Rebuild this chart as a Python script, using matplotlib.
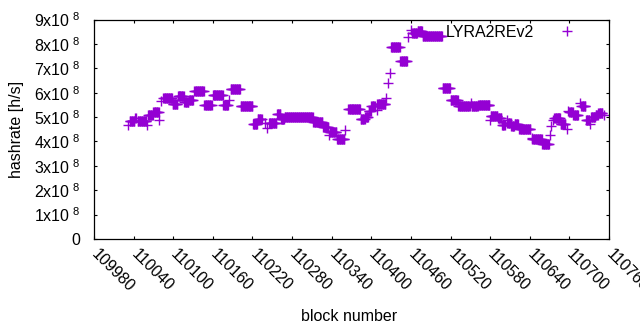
import numpy as np
import matplotlib
matplotlib.use("Agg")
import matplotlib.pyplot as plt
from matplotlib.ticker import FuncFormatter

plt.rcParams['font.family'] = ['Liberation Sans', 'DejaVu Sans']
plt.rcParams['mathtext.default'] = 'regular'

# Runs of blocks with a constant hashrate (start block, end block, hashrate in 1e8 h/s)
run_start = [110032, 110034, 110042, 110046, 110060, 110062, 110070, 110079, 110082, 110085,
             110099, 110107, 110117, 110124, 110132, 110147, 110148, 110160, 110176, 110185,
             110187, 110202, 110221, 110228, 110239, 110242, 110245, 110257, 110263, 110269,
             110312, 110327, 110336, 110337, 110348, 110360, 110365, 110384, 110391, 110396,
             110400, 110408, 110409, 110423, 110425, 110428, 110430, 110444, 110456, 110460,
             110462, 110470, 110478, 110508, 110520, 110532, 110551, 110552, 110562, 110580,
             110581, 110592, 110598, 110605, 110606, 110612, 110617, 110624, 110643, 110644,
             110659, 110670, 110672, 110675, 110677, 110687, 110696, 110698, 110700, 110706,
             110716, 110718, 110725, 110731, 110733, 110740, 110744, 110753]
run_end = [110032, 110041, 110043, 110059, 110060, 110069, 110078, 110079, 110082, 110098,
           110106, 110116, 110123, 110130, 110146, 110147, 110158, 110175, 110183, 110185,
           110201, 110220, 110227, 110234, 110239, 110242, 110256, 110262, 110268, 110311,
           110326, 110335, 110336, 110347, 110359, 110360, 110383, 110390, 110395, 110399,
           110405, 110408, 110421, 110423, 110425, 110428, 110443, 110454, 110456, 110460,
           110469, 110477, 110507, 110519, 110531, 110549, 110551, 110561, 110579, 110580,
           110591, 110597, 110602, 110605, 110611, 110616, 110622, 110641, 110643, 110658,
           110669, 110670, 110672, 110675, 110686, 110694, 110696, 110698, 110705, 110713,
           110716, 110724, 110730, 110731, 110739, 110743, 110750, 110753]
run_hashrate = [4.66, 4.85, 4.96, 4.85, 4.66, 5.09, 5.20, 4.87, 5.67, 5.80,
                5.55, 5.88, 5.62, 5.71, 6.08, 5.48, 5.51, 5.89, 5.51, 5.69,
                6.17, 5.44, 4.72, 4.90, 4.77, 4.57, 4.77, 5.11, 4.90, 5.02,
                4.80, 4.59, 4.25, 4.39, 4.12, 4.46, 5.31, 4.94, 5.00, 5.25,
                5.44, 5.28, 5.52, 5.80, 6.41, 6.82, 7.87, 7.29, 8.30, 8.55,
                8.44, 8.51, 8.32, 6.21, 5.71, 5.44, 5.59, 5.44, 5.51, 4.87,
                5.03, 4.98, 4.66, 4.87, 4.77, 4.62, 4.73, 4.49, 4.14, 4.08,
                3.89, 4.25, 4.62, 4.87, 4.98, 4.73, 4.49, 5.25, 5.21, 5.10,
                5.58, 5.44, 4.87, 4.70, 5.00, 5.10, 5.17, 5.07]

x_ticks = list(range(109980, 110761, 60))
x_tick_labels = [str(t) for t in x_ticks]
y_ticks = [i * 1e8 for i in range(10)]
series_name = "LYRA2REv2"

blocks = np.concatenate([np.arange(s, e + 1) for s, e in zip(run_start, run_end)])
values = np.concatenate([np.full(e - s + 1, v * 1e8) for s, e, v in zip(run_start, run_end, run_hashrate)])

FS = 11.5
fig = plt.figure(figsize=(6.4, 3.3), dpi=100)
ax = fig.add_axes([94 / 640, 1 - 239 / 330, 515 / 640, 219.5 / 330])

color = '#9400D3'
ax.plot(blocks, values, linestyle='none', marker='+', markersize=6.5,
        markeredgewidth=1.0, color=color, label=series_name)

ax.set_xlim(109980, 110760)
ax.set_ylim(0, 9e8)
ax.set_xticks(x_ticks)
ax.set_xticklabels(x_tick_labels, rotation=-45, ha='left', va='center',
                   rotation_mode='anchor', fontsize=FS)
ax.set_yticks(y_ticks)


def yfmt(v, pos):
    n = int(round(v / 1e8))
    if n == 0:
        return '0'
    return r'%dx10$^{\ 8}$' % n


ax.yaxis.set_major_formatter(FuncFormatter(yfmt))
ax.tick_params(axis='both', which='major', direction='in', length=2.5, width=0.8,
               top=True, right=True, labelsize=FS, color='black')
ax.tick_params(axis='x', pad=9)
ax.tick_params(axis='y', pad=10)
for sp in ax.spines.values():
    sp.set_linewidth(0.9)

ax.set_xlabel('block number', fontsize=FS, va='center')
ax.xaxis.set_label_coords(0.495, (239 - 316.5) / 219.5)
ax.set_ylabel('hashrate [h/s]', fontsize=FS, va='center')
ax.yaxis.set_label_coords((17 - 94) / 515, 0.5)

ax.legend(loc='upper right', bbox_to_anchor=(0.959, 0.975), borderaxespad=0,
          borderpad=0, handlelength=2.6, handletextpad=0.75, markerfirst=False,
          frameon=False, fontsize=FS, numpoints=1)

fig.savefig('out.png', dpi=100)
